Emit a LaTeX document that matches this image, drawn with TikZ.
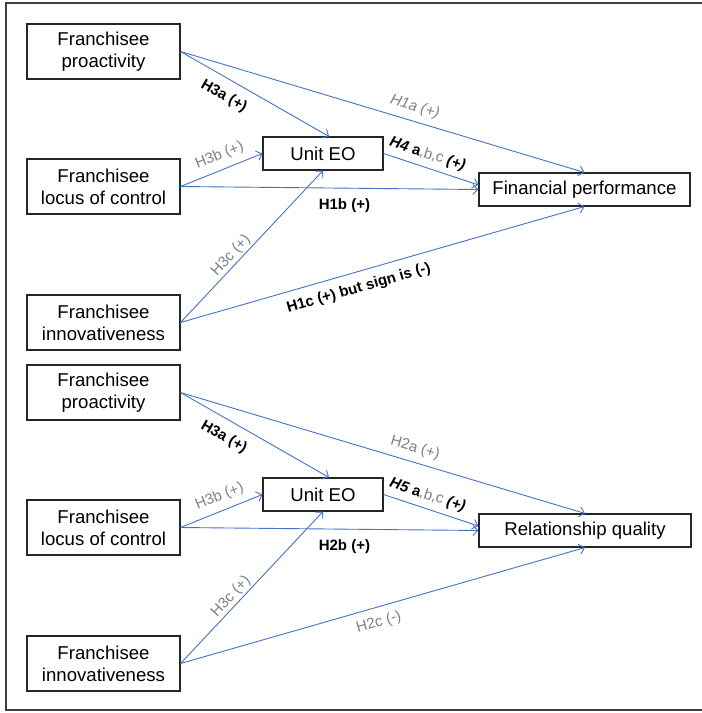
\documentclass[tikz,border=0pt]{standalone}
\usepackage{fontspec}
\setmainfont{Liberation Sans}
\usepackage{tikz}
\usetikzlibrary{calc,positioning,arrows.meta}
\definecolor{edgeblue}{RGB}{68,114,196}
\definecolor{lblgray}{RGB}{128,128,128}

\begin{document}
\begin{tikzpicture}[x=1pt,y=-1pt,>={Straight Barb[length=5pt,width=10pt]},
  box/.style={draw=black!85,line width=1.1pt,fill=white,align=center,
    font=\fontsize{18.6}{22}\selectfont,minimum width=153pt,minimum height=55pt,inner sep=0pt},
  outbox/.style={box,minimum height=33pt},
  link/.style={->,draw=edgeblue,line width=0.9pt},
  hyp/.style={font=\fontsize{15}{17}\selectfont,inner sep=1pt,sloped},
  hypbold/.style={hyp,text=black,font=\fontsize{15}{17}\selectfont\bfseries},
  hypgrey/.style={hyp,text=lblgray}]
  \useasboundingbox (0,0) rectangle (702,713);
  \draw[line width=1.4pt,black!75] (6,3) rectangle (708,710);

  %%%% financial performance
  \node[box] (pro1) at (103.5,51.5) {Franchisee\\proactivity};
  \node[box,below of=pro1,node distance=135pt] (loc1) {Franchisee\\locus of control};
  \node[box,below of=loc1,node distance=136pt] (inn1) {Franchisee\\innovativeness};
  \node[outbox,minimum width=120pt] (eo1) at ($(loc1)+(219.5,-33)$) {Unit EO};
  \node[outbox,minimum width=211pt] (fp1) at ($(loc1)+(481,3)$) {Financial\ performance};

  \draw[link] (pro1.east) --node[hypbold,pos=.35,below=9pt]{H3a (+)} ([xshift=6pt]eo1.north);
  \draw[link] (pro1.east) --node[hypgrey,pos=.57,above=5.5pt]{\itshape H1a (+)} (fp1.north);
  \draw[link] (loc1.east) --node[hypgrey,pos=.54,above=5.5pt]{H3b (+)} (eo1.west);
  \draw[link] (loc1.east) --node[hypbold,sloped=false,pos=.55,below=9pt]{H1b (+)} (fp1.west);
  \draw[link] (inn1.east) --node[hypgrey,pos=.40,above=0.5pt]{H3c (+)} (eo1.south);
  \draw[link] (inn1.east) --node[hypbold,pos=.43,below=8pt]{H1c (+) but sign is (-)} (fp1.south);
  \draw[link] (eo1.east) --node[hypbold,pos=.42,above=4.5pt]{\itshape H4 \upshape a\mdseries\textcolor{lblgray}{,b,c} \bfseries\itshape (+)} ([yshift=4.5pt]fp1.west);

  %%%% relationship quality
  \node[box,below of=pro1,node distance=341pt] (pro2) {Franchisee\\proactivity};
  \node[box,below of=pro2,node distance=135pt] (loc2) {Franchisee\\locus of control};
  \node[box,below of=loc2,node distance=136pt] (inn2) {Franchisee\\innovativeness};
  \node[outbox,minimum width=120pt] (eo2) at ($(loc2)+(219.5,-33)$) {Unit EO};
  \node[outbox,minimum width=212pt] (rq2) at ($(loc2)+(481.5,3)$) {Relationship\ quality};

  \draw[link] (pro2.east) --node[hypbold,pos=.35,below=9pt]{H3a (+)} ([xshift=6pt]eo2.north);
  \draw[link] (pro2.east) --node[hypgrey,pos=.57,above=5.5pt]{H2a (+)} (rq2.north);
  \draw[link] (loc2.east) --node[hypgrey,pos=.54,above=5.5pt]{H3b (+)} (eo2.west);
  \draw[link] (loc2.east) --node[hypbold,sloped=false,pos=.55,below=9pt]{H2b (+)} (rq2.west);
  \draw[link] (inn2.east) --node[hypgrey,pos=.40,above=0.5pt]{H3c (+)} (eo2.south);
  \draw[link] (inn2.east) --node[hypgrey,pos=.48,below=7pt]{H2c (-)} (rq2.south);
  \draw[link] (eo2.east) --node[hypbold,pos=.42,above=4.5pt]{\itshape H5 \upshape a\mdseries\textcolor{lblgray}{,b,c} \bfseries\itshape (+)} ([yshift=4.5pt]rq2.west);
\end{tikzpicture}
\end{document}
